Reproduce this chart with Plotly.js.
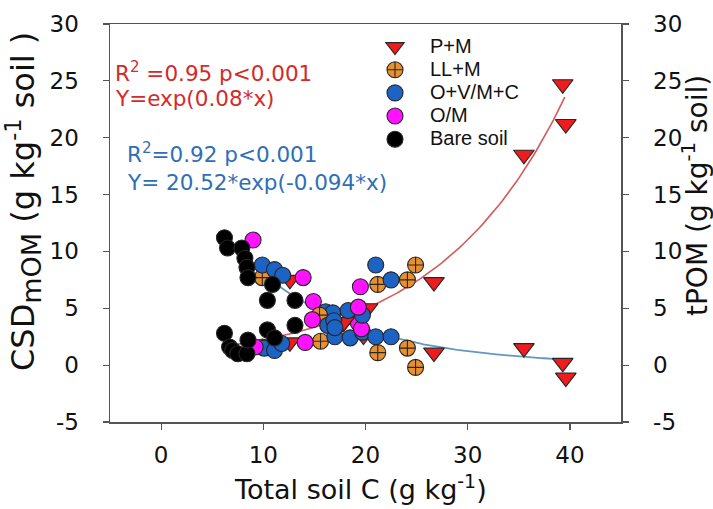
<!DOCTYPE html>
<html>
<head>
<meta charset="utf-8">
<script src="https://cdn.plot.ly/plotly-3.0.1.min.js"></script>
<style>
  html, body { margin: 0; padding: 0; background: #fff; }
  #chart { width: 713px; height: 509px; }
</style>
</head>
<body>
<div id="chart"></div>
<script>
// ---------- Data ----------
const treatments = ["P+M", "LL+M", "O+V/M+C", "O/M", "Bare soil"];

// CSDmOM (left axis) – decreasing branch
const pm_x_csd = [12.6, 17.8, 19.8, 26.7, 35.5, 39.3, 39.6];
const pm_y_csd = [7.5, 3.7, 2.6, 1.1, 1.5, 0.2, -1.1];
const ll_x_csd = [9.9, 15.6, 21.2, 24.1, 24.9];
const ll_y_csd = [7.7, 2.1, 1.1, 1.5, -0.2];
const ov_x_csd = [9.9, 11.1, 11.9, 16.1, 16.8, 17.0, 18.5, 19.7, 21.0, 22.5];
const ov_y_csd = [8.8, 8.4, 7.9, 4.7, 4.6, 2.5, 2.4, 2.9, 2.5, 2.5];
const om_x_csd = [9.0, 13.9, 14.9, 19.3, 19.6];
const om_y_csd = [11.0, 7.7, 5.6, 3.7, 3.2];
const bs_x_csd = [6.2, 6.5, 7.9, 8.2, 8.4, 8.5, 10.9, 10.4, 13.1];
const bs_y_csd = [11.2, 10.3, 10.3, 9.4, 8.6, 7.7, 7.1, 5.7, 5.7];

// tPOM (right axis) – increasing branch
const pm_x_tpom = [12.6, 17.9, 20.2, 26.7, 35.5, 39.3, 39.6];
const pm_y_tpom = [2.0, 3.8, 5.0, 7.3, 18.5, 24.7, 21.2];
const ll_x_tpom = [9.9, 15.5, 21.2, 24.1, 24.9];
const ll_y_tpom = [1.6, 4.4, 7.1, 7.5, 8.8];
const ov_x_tpom = [10.1, 11.1, 11.8, 16.3, 16.9, 17.0, 18.3, 19.7, 21.0, 22.5];
const ov_y_tpom = [1.5, 1.3, 1.9, 3.5, 3.9, 3.3, 4.8, 4.4, 8.8, 7.5];
const om_x_tpom = [9.2, 14.1, 14.8, 19.3, 19.5];
const om_y_tpom = [1.6, 2.0, 4.0, 5.1, 6.9];
const bs_x_tpom = [6.2, 6.7, 7.0, 7.5, 8.4, 8.5, 10.4, 11.1, 13.1];
const bs_y_tpom = [2.8, 1.6, 1.3, 1.0, 1.0, 2.2, 3.1, 2.4, 3.5];

// Fitted regressions shown on the chart
const fitUp = { a: 1.0, b: 0.08, xFrom: 6.0, xTo: 39.5 };       // Y=exp(0.08*x)
const fitDown = { a: 20.52, b: -0.094, xFrom: 6.0, xTo: 38.8 }; // Y=20.52*exp(-0.094*x)

const xTicks = [0, 10, 20, 30, 40];
const xTickText = ["0", "10", "20", "30", "40"];
const yTicks = [-5, 0, 5, 10, 15, 20, 25, 30];
const yTickText = ["-5", "0", "5", "10", "15", "20", "25", "30"];

// ---------- Styles ----------
const FONT = "DejaVu Sans, Liberation Sans, Arial, sans-serif";
const edge = { color: "#262626", width: 1.1 };
const styles = {
  "P+M":       { symbol: "triangle-down", color: "#ee1c1c", size: 18 },
  "LL+M":      { symbol: "circle-cross",  color: "#e8902e", size: 16 },
  "O+V/M+C":   { symbol: "circle",        color: "#1c63c4", size: 16 },
  "O/M":       { symbol: "circle",        color: "#ff12ff", size: 16 },
  "Bare soil": { symbol: "circle",        color: "#000000", size: 16 }
};

function fitLine(f) {
  const xs = [], ys = [];
  for (let i = 0; i <= 120; i++) {
    const x = f.xFrom + (f.xTo - f.xFrom) * i / 120;
    xs.push(x); ys.push(f.a * Math.exp(f.b * x));
  }
  return { xs, ys };
}

const up = fitLine(fitUp), down = fitLine(fitDown);

const traces = [
  { x: down.xs, y: down.ys, mode: "lines", line: { color: "#6596c2", width: 1.8 },
    showlegend: false, hoverinfo: "skip", yaxis: "y" },
  { x: up.xs, y: up.ys, mode: "lines", line: { color: "#d65a5a", width: 1.6 },
    showlegend: false, hoverinfo: "skip", yaxis: "y2" }
];

const csdSets = [[pm_x_csd, pm_y_csd], [ll_x_csd, ll_y_csd], [ov_x_csd, ov_y_csd], [om_x_csd, om_y_csd], [bs_x_csd, bs_y_csd]];
const tpomSets = [[pm_x_tpom, pm_y_tpom], [ll_x_tpom, ll_y_tpom], [ov_x_tpom, ov_y_tpom], [om_x_tpom, om_y_tpom], [bs_x_tpom, bs_y_tpom]];

treatments.forEach((name, i) => {
  const s = styles[name];
  traces.push({
    x: csdSets[i][0], y: csdSets[i][1],
    name: '<span style="font-size:20px">' + name + '</span>',
    type: "scatter", mode: "markers", yaxis: "y", showlegend: true,
    marker: { symbol: s.symbol, color: s.color, size: s.size, line: edge }
  });
});
treatments.forEach((name, i) => {
  const s = styles[name];
  traces.push({
    x: tpomSets[i][0], y: tpomSets[i][1], name: name, type: "scatter", mode: "markers",
    yaxis: "y2", showlegend: false,
    marker: { symbol: s.symbol, color: s.color, size: s.size, line: edge }
  });
});

const axisCommon = {
  showgrid: false, zeroline: false, showline: true, linecolor: "#555", linewidth: 1.5,
  ticks: "outside", ticklen: 6, tickwidth: 1.2, tickcolor: "#555",
  tickfont: { family: FONT, size: 23, color: "#111" }
};

const PL = 110, PR = 621, PT = 24, PB = 422;
const px2x = px => (px - PL) / (PR - PL);
const px2y = py => (PB - py) / (PB - PT);

const layout = {
  width: 713, height: 509,
  margin: { l: PL, r: 713 - PR, t: PT, b: 509 - PB, pad: 0 },
  paper_bgcolor: "#fff", plot_bgcolor: "#fff",
  font: { family: FONT, color: "#111" },
  xaxis: Object.assign({}, axisCommon, { range: [-5, 45], tickvals: xTicks, ticktext: xTickText, mirror: true, ticklabelstandoff: 6 }),
  yaxis: Object.assign({}, axisCommon, { range: [-5, 30], tickvals: yTicks, ticktext: yTickText, ticklabelstandoff: 19 }),
  yaxis2: Object.assign({}, axisCommon, { range: [-5, 30], tickvals: yTicks, ticktext: yTickText, overlaying: "y", side: "right", ticklabelstandoff: 20 }),
  showlegend: true,
  legend: {
    x: px2x(360), y: px2y(30), xanchor: "left", yanchor: "top",
    bgcolor: "rgba(0,0,0,0)", borderwidth: 0, tracegroupgap: 0, itemwidth: 60,
    font: { family: "Liberation Sans, Arial, sans-serif", size: 15.5, color: "#111" }
  },
  annotations: [
    { text: "Total soil C (g kg<sup>-1</sup>)", xref: "paper", yref: "paper",
      x: px2x(360), y: px2y(487), xanchor: "center", yanchor: "middle", showarrow: false,
      font: { family: FONT, size: 27, color: "#111" } },
    { text: 'CSD<sub><span style="font-size:27px">mOM</span></sub> (g kg<sup>-1</sup> soil )', xref: "paper", yref: "paper",
      x: px2x(23), y: px2y(202), xanchor: "center", yanchor: "middle", textangle: -90, showarrow: false,
      font: { family: FONT, size: 32, color: "#111" } },
    { text: "tPOM (g kg<sup>-1</sup> soil)", xref: "paper", yref: "paper",
      x: px2x(695), y: px2y(196), xanchor: "center", yanchor: "middle", textangle: -90, showarrow: false,
      font: { family: FONT, size: 28, color: "#111" } },
    { text: "R<sup>2</sup> =0.95 p&lt;0.001", xref: "paper", yref: "paper",
      x: px2x(113), y: px2y(72), xanchor: "left", yanchor: "middle", showarrow: false,
      font: { family: FONT, size: 21.5, color: "#d42a2a" } },
    { text: "Y=exp(0.08*x)", xref: "paper", yref: "paper",
      x: px2x(113), y: px2y(98), xanchor: "left", yanchor: "middle", showarrow: false,
      font: { family: FONT, size: 21.5, color: "#d42a2a" } },
    { text: "R<sup>2</sup>=0.92 p&lt;0.001", xref: "paper", yref: "paper",
      x: px2x(125), y: px2y(153), xanchor: "left", yanchor: "middle", showarrow: false,
      font: { family: FONT, size: 21.5, color: "#2e6fb6" } },
    { text: "Y= 20.52*exp(-0.094*x)", xref: "paper", yref: "paper",
      x: px2x(125), y: px2y(182), xanchor: "left", yanchor: "middle", showarrow: false,
      font: { family: FONT, size: 21.5, color: "#2e6fb6" } }
  ]
};

Plotly.newPlot("chart", traces, layout, { displayModeBar: false, staticPlot: true });
</script>
</body>
</html>
